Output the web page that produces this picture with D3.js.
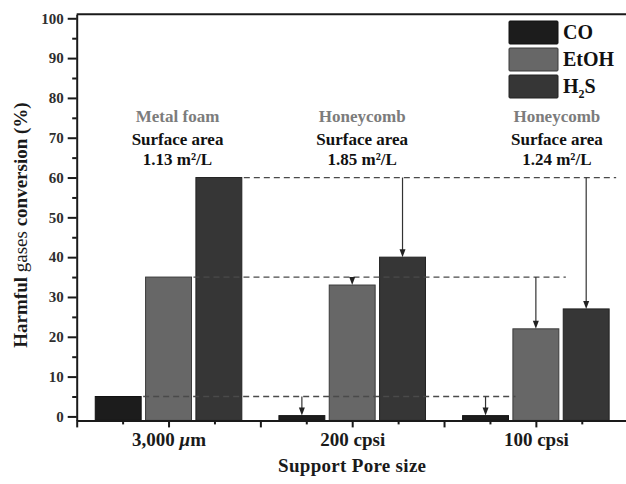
<!DOCTYPE html>
<html>
<head>
<meta charset="utf-8">
<script src="https://cdn.jsdelivr.net/npm/d3@7"></script>
<style>
  body { margin: 0; background: #fff; }
  text { font-family: "Liberation Serif", "Times New Roman", serif; }
</style>
</head>
<body>
<svg id="chart" width="626" height="484"></svg>
<script>
// Support types on the x axis
const categories = ["3,000", "200 cpsi", "100 cpsi"];
const supportTypes = ["Metal foam", "Honeycomb", "Honeycomb"];
const surfaceAreas = ["1.13", "1.85", "1.24"];

// Conversion (%) per gas
const seriesNames = ["CO", "EtOH", "H2S"];
const coValues = [5, 0.2, 0.2];
const etohValues = [35, 33, 22];
const h2sValues = [60, 40, 27];

// Axis ticks
const yMajorTicks = [0, 10, 20, 30, 40, 50, 60, 70, 80, 90, 100];
const yMinorTicks = [5, 15, 25, 35, 45, 55, 65, 75, 85, 95];
const xMajorTicks = [0.5, 1, 1.5, 2, 2.5, 3, 3.5];
const xMinorTicks = [0.75, 1.25, 1.75, 2.25, 2.75, 3.25];

const seriesValues = [coValues, etohValues, h2sValues];
const fills = ["#1c1c1c", "#676767", "#363636"];
const strokes = ["#111", "#3a3a3a", "#222"];

const svg = d3.select("#chart");

const x = d3.scaleLinear().domain([0.5, 3.5]).range([76.7, 627.7]);
const y = d3.scaleLinear().domain([-1, 101]).range([420.4, 14.3]);

const barW = 0.25;      // bar width in category units
const barStep = 0.274;  // spacing between bars of one group
const barLeft = (ci, si) => x(ci + 1 + (si - 1) * barStep - barW / 2);
const barRight = (ci, si) => x(ci + 1 + (si - 1) * barStep + barW / 2);
const barMid = (ci, si) => x(ci + 1 + (si - 1) * barStep);

// Bars
const barData = [];
seriesValues.forEach((vals, si) => vals.forEach((v, ci) => barData.push({ si, ci, v })));
svg.append("g").selectAll("rect").data(barData).join("rect")
  .attr("x", d => barLeft(d.ci, d.si))
  .attr("width", d => barRight(d.ci, d.si) - barLeft(d.ci, d.si))
  .attr("y", d => y(d.v))
  .attr("height", d => y(-1) - y(d.v))
  .attr("fill", d => fills[d.si])
  .attr("stroke", d => strokes[d.si])
  .attr("stroke-width", 1);

// Dashed reference levels from the metal foam bars, with arrows to the honeycomb bars
const refG = svg.append("g");
seriesValues.forEach((vals, si) => {
  const level = vals[0];
  refG.append("line")
    .attr("x1", barRight(0, si) + 2)
    .attr("x2", barRight(2, si) + 7)
    .attr("y1", y(level)).attr("y2", y(level))
    .attr("stroke", "#4a4a4a").attr("stroke-width", 1.3)
    .attr("stroke-dasharray", "6,4");
  [1, 2].forEach(ci => {
    const cx = barMid(ci, si);
    const top = y(vals[ci]);
    refG.append("line")
      .attr("x1", cx).attr("x2", cx)
      .attr("y1", y(level)).attr("y2", top - 4)
      .attr("stroke", "#333").attr("stroke-width", 1.2);
    refG.append("path")
      .attr("d", `M${cx - 3},${top - 8} L${cx + 3},${top - 8} L${cx},${top} Z`)
      .attr("fill", "#222");
  });
});

// Axes
const axisColor = "#1a1a1a";
const yAxis = svg.append("g").attr("transform", `translate(${x(0.5)},0)`)
  .call(d3.axisLeft(y).tickValues(yMajorTicks).tickSize(9).tickSizeOuter(0).tickPadding(4));
svg.append("g").attr("transform", `translate(${x(0.5)},0)`)
  .call(d3.axisLeft(y).tickValues(yMinorTicks).tickSize(4.5).tickSizeOuter(0).tickFormat(""))
  .select(".domain").remove();
yAxis.selectAll("text")
  .attr("font-size", 15).attr("font-weight", "bold").attr("fill", "#2e2e2e")
  .style("font-family", "'Liberation Serif', serif");

const xAxis = svg.append("g").attr("transform", `translate(0,${y(-1)})`)
  .call(d3.axisBottom(x).tickValues(xMajorTicks).tickSize(7).tickSizeOuter(0)
    .tickFormat(d => Number.isInteger(d) ? categories[d - 1] : ""));
svg.append("g").attr("transform", `translate(0,${y(-1)})`)
  .call(d3.axisBottom(x).tickValues(xMinorTicks).tickSize(4).tickSizeOuter(0).tickFormat(""))
  .select(".domain").remove();
xAxis.selectAll("text")
  .attr("y", 26).attr("dy", null)
  .attr("font-size", 19).attr("font-weight", "bold").attr("fill", "#1a1a1a")
  .style("font-family", "'Liberation Serif', serif");
// micrometre unit on the first category
xAxis.selectAll("text").filter(d => d === 1)
  .text(categories[0] + " ")
  .append("tspan").attr("font-style", "italic").text("μ")
  .select(function () { return this.parentNode; })
  .append("tspan").text("m");

svg.selectAll(".domain, .tick line")
  .attr("stroke", axisColor).attr("stroke-width", 2);

// Top frame line
svg.append("line")
  .attr("x1", x(0.5)).attr("x2", x(3.5))
  .attr("y1", y(101)).attr("y2", y(101))
  .attr("stroke", axisColor).attr("stroke-width", 2);

// Axis titles
svg.append("text")
  .attr("x", (x(0.5) + x(3.5)) / 2).attr("y", 472)
  .attr("text-anchor", "middle").attr("font-size", 19).attr("font-weight", "bold")
  .attr("letter-spacing", 0.3).attr("fill", "#1a1a1a")
  .text("Support Pore size");

const yTitle = svg.append("text")
  .attr("transform", "translate(27,225) rotate(-90)")
  .attr("text-anchor", "middle").attr("font-size", 19).attr("font-weight", "bold")
  .attr("fill", "#1a1a1a");
yTitle.append("tspan").text("Harmful ");
yTitle.append("tspan").attr("font-weight", "normal").text("gases");
yTitle.append("tspan").text(" conversion (%)");

// Support annotations
const annotShift = [9, 10, 21];
categories.forEach((c, ci) => {
  const cx = x(ci + 1) + annotShift[ci];
  svg.append("text").attr("x", cx).attr("y", 122)
    .attr("text-anchor", "middle").attr("font-size", 17).attr("font-weight", "bold")
    .attr("fill", "#7c7c7c").text(supportTypes[ci]);
  svg.append("text").attr("x", cx).attr("y", 145)
    .attr("text-anchor", "middle").attr("font-size", 17).attr("font-weight", "bold")
    .attr("fill", "#111").text("Surface area");
  svg.append("text").attr("x", cx).attr("y", 165)
    .attr("text-anchor", "middle").attr("font-size", 17).attr("font-weight", "bold")
    .attr("fill", "#111").text(`${surfaceAreas[ci]} m²/L`);
});

// Legend
const legend = svg.append("g").attr("transform", "translate(509,21)");
seriesNames.forEach((name, si) => {
  const g = legend.append("g").attr("transform", `translate(0,${si * 27})`);
  g.append("rect").attr("width", 49).attr("height", 23).attr("rx", 1)
    .attr("fill", fills[si]).attr("stroke", strokes[si]).attr("stroke-width", 1);
  const t = g.append("text").attr("x", 54).attr("y", 18)
    .attr("font-size", 20).attr("font-weight", "bold").attr("fill", "#111");
  if (name === "H2S") {
    t.append("tspan").text("H");
    t.append("tspan").attr("font-size", 12).attr("dy", 5).text("2");
    t.append("tspan").attr("dy", -5).text("S");
  } else {
    t.text(name);
  }
});
</script>
</body>
</html>
